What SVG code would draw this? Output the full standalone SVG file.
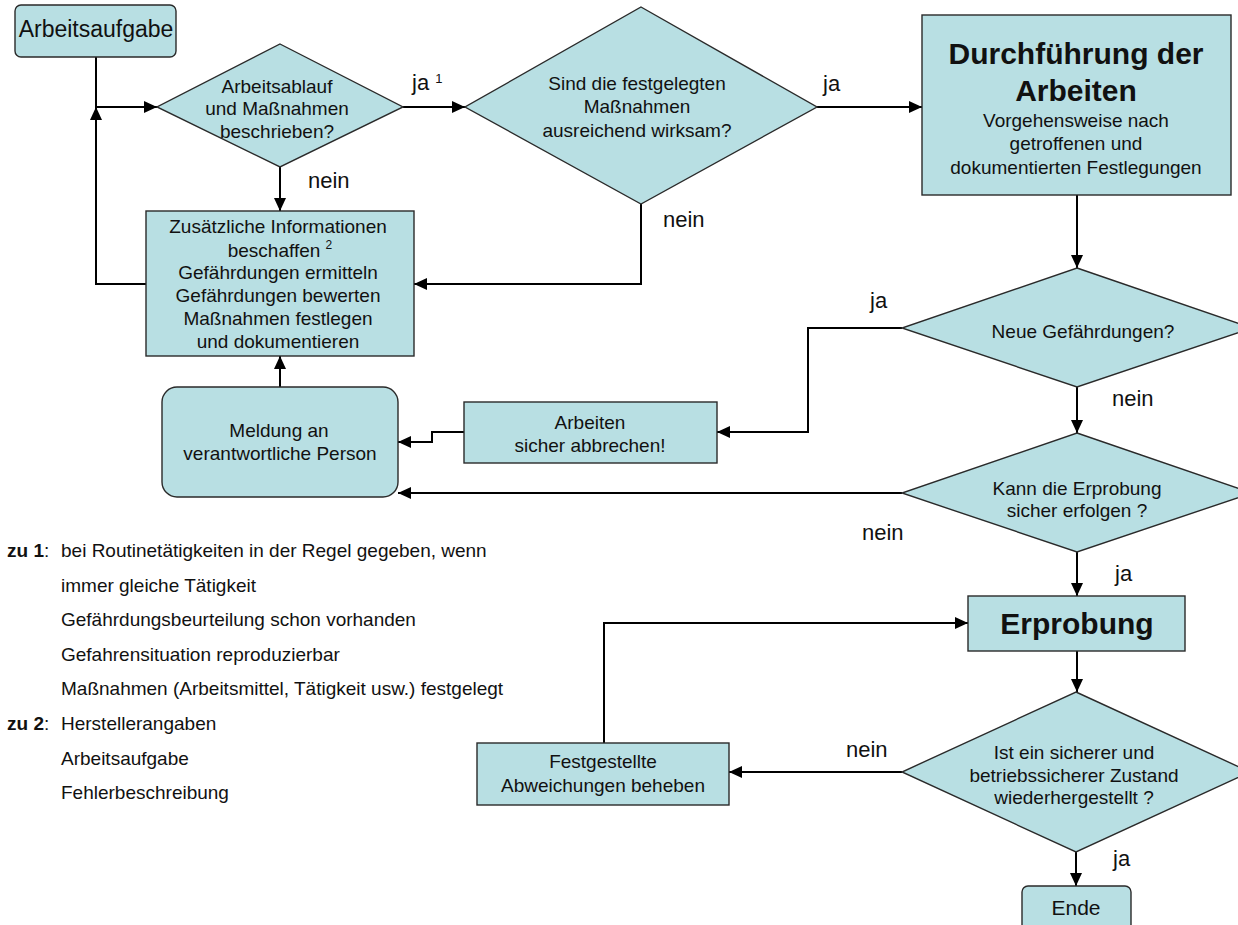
<svg xmlns="http://www.w3.org/2000/svg" width="1238" height="925" viewBox="0 0 1238 925">
<style>
.n{fill:#b8dfe3;stroke:#2a2a2a;stroke-width:1.4}
.t{font-family:"Liberation Sans",Arial,sans-serif;font-size:19px;fill:#111;text-anchor:middle}
.b{font-family:"Liberation Sans",Arial,sans-serif;font-size:30px;font-weight:bold;fill:#111;text-anchor:middle}
.l{font-family:"Liberation Sans",Arial,sans-serif;font-size:22px;fill:#111}
.f{font-family:"Liberation Sans",Arial,sans-serif;font-size:19px;fill:#111}
.c{fill:none;stroke:#000;stroke-width:2}
</style>
<defs>
<marker id="ah" markerUnits="userSpaceOnUse" markerWidth="13" markerHeight="12" refX="13" refY="6" orient="auto">
<path d="M0,0 L13,6 L0,12 z" fill="#000"/>
</marker>
</defs>

<g id="connectors">
<polyline class="c" points="96,57 96,107"/>
<polyline class="c" points="146,284 96,284 96,107" marker-end="url(#ah)"/>
<polyline class="c" points="96,107 157,107" marker-end="url(#ah)"/>
<polyline class="c" points="403,107 465,107" marker-end="url(#ah)"/>
<polyline class="c" points="817,107 922,107" marker-end="url(#ah)"/>
<polyline class="c" points="280,167 280,211" marker-end="url(#ah)"/>
<polyline class="c" points="641,204 641,284 414,284" marker-end="url(#ah)"/>
<polyline class="c" points="1077,195 1077,268" marker-end="url(#ah)"/>
<polyline class="c" points="902,328 808,328 808,432 717,432" marker-end="url(#ah)"/>
<polyline class="c" points="464,432 432,432 432,442 398,442" marker-end="url(#ah)"/>
<polyline class="c" points="280,387 280,356" marker-end="url(#ah)"/>
<polyline class="c" points="1077,387 1077,433" marker-end="url(#ah)"/>
<polyline class="c" points="902,493 398,493" marker-end="url(#ah)"/>
<polyline class="c" points="1077,552 1077,596" marker-end="url(#ah)"/>
<polyline class="c" points="1077,651 1077,692" marker-end="url(#ah)"/>
<polyline class="c" points="902,772 729,772" marker-end="url(#ah)"/>
<polyline class="c" points="604,743 604,623 968,623" marker-end="url(#ah)"/>
<polyline class="c" points="1076,852 1076,886" marker-end="url(#ah)"/>
</g>

<g id="labels">
<text class="l" x="412" y="90">ja <tspan font-size="13" dy="-7">1</tspan></text>
<text class="l" x="823" y="91">ja</text>
<text class="l" x="308" y="188">nein</text>
<text class="l" x="663" y="227">nein</text>
<text class="l" x="870" y="308">ja</text>
<text class="l" x="1112" y="406">nein</text>
<text class="l" x="862" y="540">nein</text>
<text class="l" x="1115" y="581">ja</text>
<text class="l" x="846" y="757">nein</text>
<text class="l" x="1113" y="866">ja</text>
</g>

<g id="n_arbeitsaufgabe">
<rect class="n" x="15" y="5" width="161" height="52" rx="6"/>
<text class="t" x="96" y="37" font-size="23" style="font-size:23px">Arbeitsaufgabe</text>
</g>

<g id="d_arbeitsablauf">
<polygon class="n" points="280,44 403,107 280,167 157,107"/>
<text class="t" x="277" y="93">Arbeitsablauf</text>
<text class="t" x="277" y="115">und Maßnahmen</text>
<text class="t" x="277" y="138">beschrieben?</text>
</g>

<g id="d_wirksam">
<polygon class="n" points="641,7 817,107 641,204 465,107"/>
<text class="t" x="637" y="90">Sind die festgelegten</text>
<text class="t" x="637" y="113">Maßnahmen</text>
<text class="t" x="637" y="137">ausreichend wirksam?</text>
</g>

<g id="n_durchfuehrung">
<rect class="n" x="922" y="15" width="309" height="180"/>
<text class="b" x="1076" y="64">Durchführung der</text>
<text class="b" x="1076" y="101">Arbeiten</text>
<text class="t" x="1076" y="127">Vorgehensweise nach</text>
<text class="t" x="1076" y="150">getroffenen und</text>
<text class="t" x="1076" y="174">dokumentierten Festlegungen</text>
</g>

<g id="n_zusaetzlich">
<rect class="n" x="146" y="211" width="268" height="145"/>
<text class="t" x="278" y="233">Zusätzliche Informationen</text>
<text class="t" x="280" y="257">beschaffen <tspan font-size="12" style="font-size:12px" dy="-8">2</tspan></text>
<text class="t" x="278" y="279">Gefährdungen ermitteln</text>
<text class="t" x="278" y="302">Gefährdungen bewerten</text>
<text class="t" x="278" y="325">Maßnahmen festlegen</text>
<text class="t" x="278" y="348">und dokumentieren</text>
</g>

<g id="n_meldung">
<rect class="n" x="162" y="387" width="236" height="110" rx="15"/>
<text class="t" x="279" y="437">Meldung an</text>
<text class="t" x="280" y="460">verantwortliche Person</text>
</g>

<g id="n_abbrechen">
<rect class="n" x="464" y="402" width="253" height="61"/>
<text class="t" x="590" y="429">Arbeiten</text>
<text class="t" x="590" y="452">sicher abbrechen!</text>
</g>

<g id="d_neue">
<polygon class="n" points="1077,268 1252,328 1077,387 902,328"/>
<text class="t" x="1083" y="338">Neue Gefährdungen?</text>
</g>

<g id="d_kann">
<polygon class="n" points="1077,433 1252,493 1077,552 902,493"/>
<text class="t" x="1077" y="495">Kann die Erprobung</text>
<text class="t" x="1077" y="517">sicher erfolgen ?</text>
</g>

<g id="n_erprobung">
<rect class="n" x="968" y="596" width="217" height="55"/>
<text class="b" x="1077" y="634">Erprobung</text>
</g>

<g id="d_zustand">
<polygon class="n" points="1076,692 1250,772 1076,852 902,772"/>
<text class="t" x="1074" y="759">Ist ein sicherer und</text>
<text class="t" x="1074" y="782">betriebssicherer Zustand</text>
<text class="t" x="1074" y="804">wiederhergestellt ?</text>
</g>

<g id="n_festgestellte">
<rect class="n" x="477" y="743" width="252" height="62"/>
<text class="t" x="603" y="768">Festgestellte</text>
<text class="t" x="603" y="792">Abweichungen beheben</text>
</g>

<g id="n_ende">
<rect class="n" x="1022" y="886" width="109" height="50" rx="6"/>
<text class="t" x="1076" y="915" style="font-size:21px">Ende</text>
</g>

<g id="footnotes">
<text class="f" x="7" y="557"><tspan font-weight="bold">zu 1</tspan>:</text>
<text class="f" x="61" y="557">bei Routinetätigkeiten in der Regel gegeben, wenn</text>
<text class="f" x="61" y="592">immer gleiche Tätigkeit</text>
<text class="f" x="61" y="626">Gefährdungsbeurteilung schon vorhanden</text>
<text class="f" x="61" y="661">Gefahrensituation reproduzierbar</text>
<text class="f" x="61" y="695">Maßnahmen (Arbeitsmittel, Tätigkeit usw.) festgelegt</text>
<text class="f" x="7" y="730"><tspan font-weight="bold">zu 2</tspan>:</text>
<text class="f" x="61" y="730">Herstellerangaben</text>
<text class="f" x="61" y="765">Arbeitsaufgabe</text>
<text class="f" x="61" y="799">Fehlerbeschreibung</text>
</g>
</svg>
